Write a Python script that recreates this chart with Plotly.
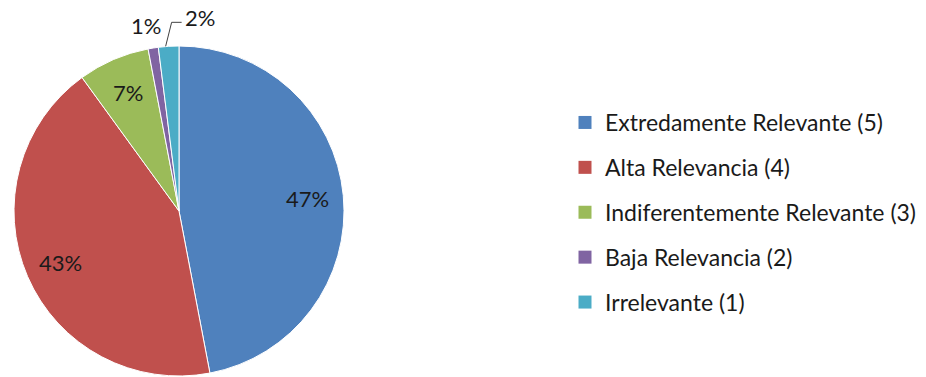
import math
import plotly.graph_objects as go

# Survey answers and their share of responses (percent)
categories = [
    "Extredamente Relevante (5)",
    "Alta Relevancia (4)",
    "Indiferentemente Relevante (3)",
    "Baja Relevancia (2)",
    "Irrelevante (1)",
]
shares = [47, 43, 7, 1, 2]
colors = ["#4F81BD", "#C0504D", "#9BBB59", "#8064A2", "#4BACC6"]

W, H = 926, 377
FONT = "Lato"
TEXT_COLOR = "#1a1a1a"

# Pie placement in pixels (centre and radius)
cx, cy, R = 179, 211, 165

fig = go.Figure()
fig.add_trace(go.Pie(
    labels=categories,
    values=shares,
    sort=False,
    direction="clockwise",
    rotation=0,
    marker=dict(colors=colors, line=dict(color="white", width=1)),
    textinfo="none",
    hoverinfo="label+percent",
    showlegend=False,
    domain=dict(x=[(cx - R) / W, (cx + R) / W],
                y=[(H - cy - R) / H, (H - cy + R) / H]),
))

# Legend entries, one group per category so they can be spaced apart
for name, col in zip(categories, colors):
    fig.add_trace(go.Scatter(
        x=[None], y=[None], mode="markers", name=name, legendgroup=name,
        marker=dict(symbol="square", size=13, color=col),
    ))


def px_to_paper(x, y):
    return x / W, 1 - y / H


def direction(frac):
    a = 2 * math.pi * frac
    return math.sin(a), -math.cos(a)


def label(x, y, text, xanchor="center"):
    px, py = px_to_paper(x, y)
    return dict(x=px, y=py, xref="paper", yref="paper",
                xanchor=xanchor, yanchor="middle",
                text=text, showarrow=False,
                font=dict(family=FONT, size=22, color=TEXT_COLOR))


total = sum(shares)
cum = 0
annotations = []
shapes = []
for i, v in enumerate(shares):
    mid = (cum + v / 2) / total
    cum += v
    dx, dy = direction(mid)
    text = f"{v}%"
    if v >= 5:
        # inside label along the slice bisector
        annotations.append(label(cx + 0.78 * R * dx, cy + 0.78 * R * dy, text))
    elif i == 3:
        annotations.append(label(cx + 1.14 * R * dx - 4, cy + 1.14 * R * dy, text))
    else:
        # outside label with an elbow leader line
        sx, sy = cx + R * dx - 3, cy + R * dy
        ex, ey = sx + 6, sy - 24
        hx, hy = ex + 10, ey
        p0 = px_to_paper(sx, sy)
        p1 = px_to_paper(ex, ey)
        p2 = px_to_paper(hx, hy)
        shapes.append(dict(type="path", xref="paper", yref="paper",
                           path=f"M {p0[0]},{p0[1]} L {p1[0]},{p1[1]} L {p2[0]},{p2[1]}",
                           line=dict(color="#404040", width=1)))
        annotations.append(label(hx + 1, hy - 5, text, xanchor="left"))

fig.update_layout(
    width=W, height=H,
    margin=dict(l=0, r=0, t=0, b=0),
    paper_bgcolor="white", plot_bgcolor="white",
    xaxis=dict(visible=False), yaxis=dict(visible=False),
    showlegend=True,
    legend=dict(x=565 / W, y=1 - 101 / H, xanchor="left", yanchor="top",
                font=dict(family=FONT, size=23, color=TEXT_COLOR),
                tracegroupgap=12, itemclick=False, itemdoubleclick=False),
    annotations=annotations,
    shapes=shapes,
)

fig.write_html("out.html")
